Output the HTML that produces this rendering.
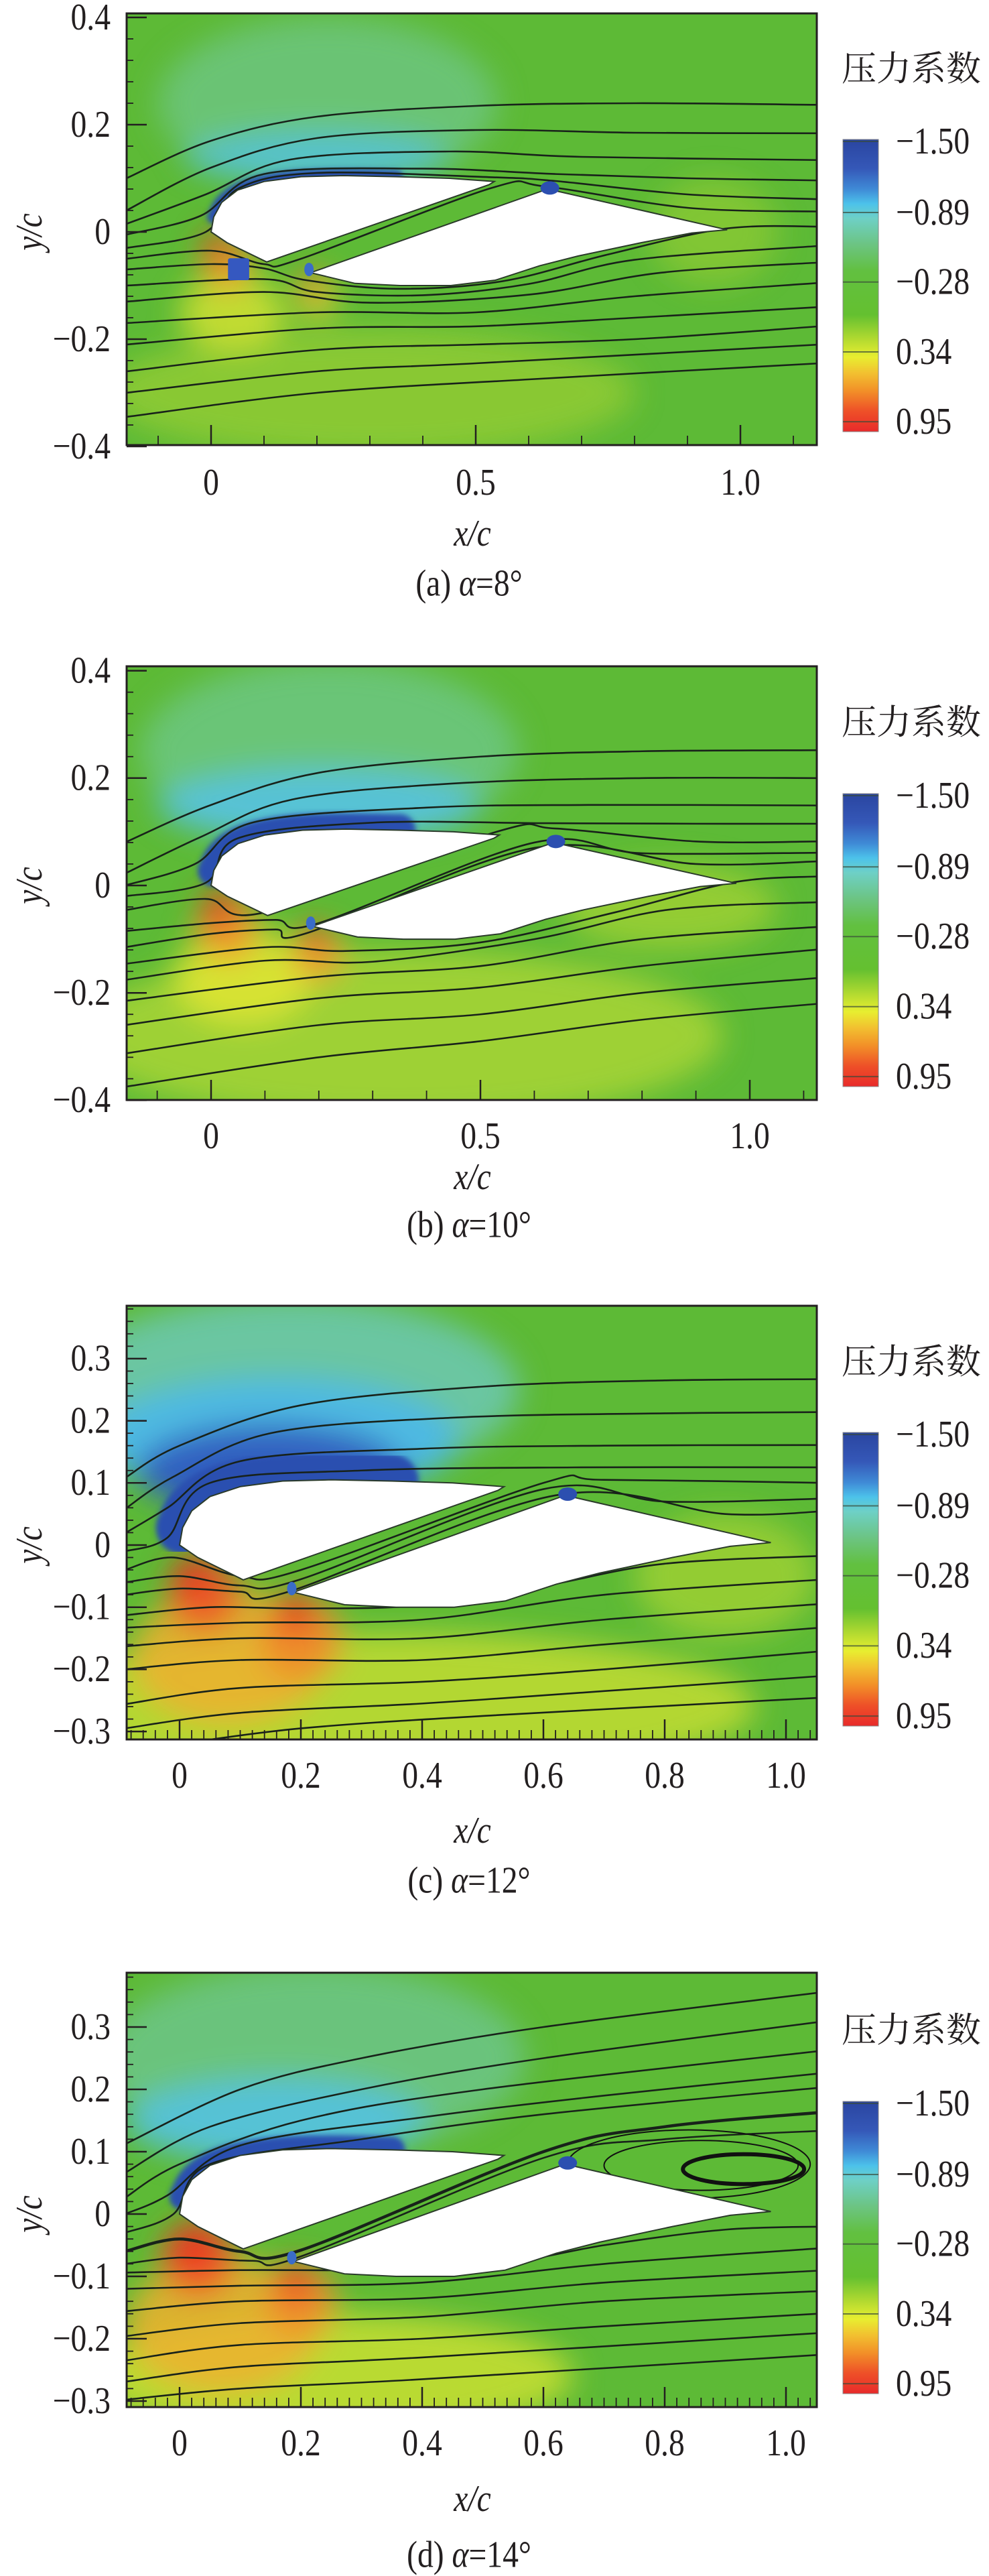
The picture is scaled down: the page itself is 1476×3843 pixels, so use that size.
<!DOCTYPE html>
<html><head><meta charset="utf-8"><title>Pressure coefficient contours</title>
<style>
html,body{margin:0;padding:0;background:#fff;}
#fig{position:absolute;left:0;top:0;width:1476px;height:3843px;}
</style></head>
<body>
<svg id="fig" xmlns="http://www.w3.org/2000/svg" width="1476" height="3843" viewBox="0 0 1476 3843">
<defs>
<filter id="blurL" x="-50%" y="-50%" width="200%" height="200%"><feGaussianBlur stdDeviation="22"/></filter>
<filter id="blurS" x="-50%" y="-50%" width="200%" height="200%"><feGaussianBlur stdDeviation="4"/></filter>
<linearGradient id="cbgrad" x1="0" y1="0" x2="0" y2="1">
<stop offset="0" stop-color="#2a45a0"/><stop offset="0.1" stop-color="#3558b8"/>
<stop offset="0.17" stop-color="#3f8ad6"/><stop offset="0.22" stop-color="#4cc2ea"/>
<stop offset="0.27" stop-color="#6ed0c6"/><stop offset="0.36" stop-color="#6cc482"/>
<stop offset="0.45" stop-color="#62c040"/><stop offset="0.6" stop-color="#64c030"/>
<stop offset="0.69" stop-color="#b8dc30"/><stop offset="0.745" stop-color="#e8ee30"/>
<stop offset="0.8" stop-color="#f2c030"/><stop offset="0.86" stop-color="#f29028"/>
<stop offset="0.93" stop-color="#ee5028"/><stop offset="1" stop-color="#e82a2a"/>
</linearGradient>
</defs>
</svg>
<script>
// ---------- data (data coordinates x/c, y/c) ----------
const cbLabels = ["\u22121.50","\u22120.89","\u22120.28","0.34","0.95"];
const cbFrac = [0.007,0.25,0.488,0.727,0.966];
const xTicksAB = [0,0.5,1.0];
const xTickLabelsAB = ["0","0.5","1.0"];
const yTicksAB = [-0.4,-0.2,0,0.2,0.4];
const yTickLabelsAB = ["\u22120.4","\u22120.2","0","0.2","0.4"];
const xTicksCD = [0,0.2,0.4,0.6,0.8,1.0];
const xTickLabelsCD = ["0","0.2","0.4","0.6","0.8","1.0"];
const yTicksCD = [-0.3,-0.2,-0.1,0,0.1,0.2,0.3];
const yTickLabelsCD = ["\u22120.3","\u22120.2","\u22120.1","0","0.1","0.2","0.3"];
const captions = ["(a) ","(b) ","(c) ","(d) "];
const alphas = ["8","10","12","14"];

// airfoil geometry
const mainX = [0,0.005,0.02,0.05,0.1,0.17,0.25,0.35,0.45,0.535,0.525,0.105,0.03,0];
const mainY = [0,0.028,0.055,0.078,0.094,0.103,0.105,0.103,0.1,0.094,0.088,-0.056,-0.02,0];
const flapX = [0.188,0.63,0.645,0.975,0.908,0.813,0.693,0.621,0.537,0.453,0.357,0.272,0.188];
const flapY = [-0.076,0.078,0.078,0.004,-0.002,-0.02,-0.045,-0.063,-0.09,-0.1,-0.1,-0.096,-0.076];

// streamlines per panel: flat [x0,y0,x1,y1,...]
const streamA = [
[-0.16,0.10,0.0,0.17,0.2,0.215,0.5,0.235,0.8,0.24,1.15,0.237],
[-0.16,0.04,0.0,0.12,0.2,0.175,0.5,0.19,0.8,0.185,1.15,0.184],
[-0.16,0.015,-0.01,0.07,0.15,0.135,0.45,0.15,0.7,0.14,1.15,0.134],
[-0.16,-0.005,-0.02,0.03,0.1,0.108,0.4,0.118,0.65,0.108,0.9,0.1,1.15,0.096],
[-0.16,-0.03,-0.01,0.0,0.05,0.08,0.2,0.11,0.53,0.102,0.65,0.095,0.9,0.07,1.15,0.061],
[-0.16,-0.05,0.0,-0.035,0.1,-0.06,0.17,-0.05,0.53,0.082,0.63,0.085,0.9,0.045,1.15,0.038],
[-0.16,-0.07,0.0,-0.06,0.1,-0.068,0.18,-0.09,0.35,-0.106,0.55,-0.092,0.75,-0.042,0.97,0.006,1.15,0.01],
[-0.16,-0.1,0.1,-0.088,0.2,-0.112,0.4,-0.118,0.6,-0.097,0.8,-0.052,1.15,-0.026],
[-0.16,-0.13,0.1,-0.112,0.3,-0.132,0.6,-0.117,0.85,-0.076,1.15,-0.057],
[-0.16,-0.17,0.2,-0.15,0.5,-0.15,0.8,-0.12,1.15,-0.095],
[-0.16,-0.21,0.2,-0.18,0.5,-0.176,0.8,-0.16,1.15,-0.14],
[-0.16,-0.26,0.2,-0.22,0.5,-0.21,0.8,-0.2,1.15,-0.176],
[-0.16,-0.3,0.2,-0.26,0.5,-0.245,1.15,-0.21],
[-0.16,-0.345,0.2,-0.3,0.6,-0.275,1.15,-0.245]];
const streamB = [
[-0.16,0.08,0.0,0.15,0.2,0.21,0.5,0.24,0.8,0.25,1.13,0.252],
[-0.16,0.022,-0.02,0.09,0.15,0.16,0.45,0.19,0.8,0.2,1.13,0.2],
[-0.16,0.0,-0.03,0.04,0.08,0.118,0.4,0.145,0.7,0.15,1.13,0.149],
[-0.16,-0.02,-0.01,0.005,0.05,0.088,0.3,0.117,0.62,0.116,0.9,0.115,1.13,0.115],
[-0.16,-0.046,-0.01,-0.025,0.1,-0.05,0.53,0.1,0.64,0.106,0.9,0.082,1.13,0.082],
[-0.16,-0.085,0.0,-0.07,0.12,-0.064,0.2,-0.07,0.6,0.08,0.8,0.06,1.13,0.061],
[-0.16,-0.115,0.0,-0.09,0.12,-0.082,0.18,-0.088,0.6,0.07,0.9,0.04,1.13,0.045],
[-0.16,-0.146,0.1,-0.115,0.25,-0.122,0.5,-0.106,0.75,-0.05,0.97,0.006,1.13,0.017],
[-0.16,-0.176,0.1,-0.14,0.3,-0.142,0.6,-0.1,0.85,-0.045,1.13,-0.031],
[-0.16,-0.215,0.2,-0.17,0.5,-0.15,0.8,-0.1,1.13,-0.077],
[-0.16,-0.26,0.2,-0.21,0.5,-0.19,0.8,-0.15,1.13,-0.119],
[-0.16,-0.313,0.2,-0.26,0.5,-0.24,0.8,-0.2,1.13,-0.172],
[-0.16,-0.375,0.2,-0.32,0.5,-0.29,0.8,-0.25,1.13,-0.22]];
const streamC = [
[-0.09,0.108,0.0,0.16,0.2,0.225,0.5,0.255,0.8,0.265,1.07,0.267],
[-0.09,0.058,-0.01,0.11,0.15,0.18,0.45,0.205,0.8,0.212,1.07,0.214],
[-0.09,0.019,-0.02,0.06,0.1,0.135,0.4,0.155,0.7,0.16,1.07,0.161],
[-0.09,-0.01,-0.02,0.012,0.05,0.1,0.3,0.12,0.65,0.125,1.07,0.125],
[-0.09,-0.04,-0.01,-0.02,0.1,-0.05,0.2,-0.04,0.6,0.1,0.7,0.105,1.07,0.1],
[-0.09,-0.06,0.0,-0.05,0.1,-0.065,0.2,-0.055,0.6,0.09,0.8,0.07,1.07,0.075],
[-0.09,-0.08,0.0,-0.07,0.1,-0.075,0.18,-0.075,0.62,0.08,0.9,0.05,1.07,0.055],
[-0.09,-0.113,0.05,-0.1,0.2,-0.102,0.4,-0.097,0.6,-0.066,0.8,-0.03,1.07,-0.017],
[-0.09,-0.133,0.1,-0.125,0.4,-0.12,0.7,-0.08,1.07,-0.055],
[-0.09,-0.163,0.1,-0.15,0.4,-0.15,0.7,-0.12,1.07,-0.094],
[-0.09,-0.2,0.1,-0.185,0.4,-0.185,0.7,-0.16,1.07,-0.132],
[-0.09,-0.256,0.1,-0.23,0.4,-0.22,0.7,-0.2,1.07,-0.17],
[-0.09,-0.295,0.1,-0.27,0.4,-0.255,0.7,-0.235,1.07,-0.21],
[0.0,-0.32,0.2,-0.295,0.5,-0.275,1.07,-0.245]];
const streamD = [
[-0.09,0.112,0.1,0.2,0.3,0.25,0.6,0.3,1.07,0.357],
[-0.09,0.066,0.05,0.14,0.3,0.2,0.6,0.25,1.07,0.31],
[-0.09,0.026,0.0,0.08,0.2,0.15,0.5,0.2,1.07,0.263],
[-0.09,0.0,-0.02,0.03,0.1,0.11,0.4,0.155,0.7,0.19,1.07,0.227],
[-0.09,-0.03,-0.01,0.0,0.05,0.08,0.3,0.12,0.6,0.16,1.07,0.204],
[-0.09,-0.06,0.0,-0.04,0.1,-0.06,0.2,-0.058,0.6,0.1,0.8,0.14,1.07,0.164],
[-0.09,-0.08,0.0,-0.07,0.12,-0.075,0.2,-0.068,0.6,0.09,0.8,0.12,1.07,0.134],
[-0.09,-0.094,0.1,-0.09,0.3,-0.09,0.5,-0.085,0.7,-0.05,0.9,-0.025,1.07,-0.02],
[-0.09,-0.12,0.1,-0.115,0.4,-0.11,0.7,-0.08,1.07,-0.054],
[-0.09,-0.156,0.1,-0.14,0.4,-0.135,0.7,-0.11,1.07,-0.09],
[-0.09,-0.196,0.1,-0.175,0.4,-0.165,0.7,-0.14,1.07,-0.123],
[-0.09,-0.235,0.1,-0.21,0.4,-0.2,0.7,-0.18,1.07,-0.159],
[-0.09,-0.269,0.1,-0.245,0.4,-0.23,1.07,-0.19],
[-0.09,-0.298,0.1,-0.28,0.4,-0.265,1.07,-0.225]];

// colour blobs: [x, y, rx, ry, colour, opacity]
const blobsA = [
[0.22,0.24,0.32,0.16,"#6fc88e",0.7],[0.2,0.14,0.25,0.05,"#55c2d8",0.85],
[0.3,-0.3,0.5,0.12,"#a6d232",0.6],[0.95,0.0,0.12,0.1,"#a6d232",0.5],
[0.04,-0.15,0.1,0.07,"#e2e632",0.75],[0.03,-0.06,0.05,0.05,"#f09a2c",0.85],
[0.01,-0.03,0.025,0.03,"#e83a22",0.95],[0.2,-0.12,0.04,0.04,"#ecd030",0.8],[0.19,-0.095,0.02,0.025,"#f0602a",0.9]];
const blobsB = [
[0.22,0.25,0.35,0.17,"#6fc88e",0.75],[0.2,0.15,0.3,0.07,"#55c2e0",0.9],
[0.35,-0.28,0.6,0.16,"#b4d834",0.75],[0.85,-0.04,0.2,0.08,"#b8d834",0.6],
[0.06,-0.17,0.13,0.09,"#e2e632",0.85],[0.03,-0.08,0.06,0.06,"#f09a2c",0.9],
[0.015,-0.045,0.03,0.04,"#e83a22",0.95],[0.2,-0.13,0.05,0.05,"#f0a030",0.85],[0.19,-0.1,0.025,0.03,"#ee5028",0.9]];
const blobsC = [
[0.18,0.25,0.38,0.15,"#6cc8b4",0.85],[0.16,0.17,0.3,0.1,"#4cb8e6",0.95],[0.15,0.12,0.22,0.075,"#3060c0",1.0],
[0.35,-0.26,0.6,0.12,"#d0e032",0.75],[0.9,-0.05,0.15,0.1,"#b8d834",0.6],
[0.08,-0.18,0.16,0.11,"#eeb030",0.85],[0.04,-0.08,0.06,0.06,"#ee5a28",0.9],
[0.02,-0.05,0.03,0.035,"#e83022",0.95],[0.2,-0.15,0.07,0.07,"#f08c2c",0.9],[0.19,-0.11,0.03,0.035,"#e83a22",0.9]];
const blobsD = [
[0.22,0.25,0.35,0.15,"#6fc89a",0.7],[0.16,0.15,0.25,0.07,"#55c2e0",0.9],
[0.25,-0.26,0.4,0.1,"#d8e432",0.75],[0.07,-0.18,0.16,0.11,"#eeb030",0.85],
[0.03,-0.07,0.06,0.06,"#ee5028",0.95],[0.02,-0.05,0.03,0.035,"#e83022",0.95],
[0.2,-0.14,0.06,0.06,"#f0902c",0.9],[0.19,-0.11,0.03,0.035,"#ee4a26",0.9]];

// ---------- panel layouts ----------
const panels = [
{x0:315,sx:790,y0:346,sy:800,l:189,t:20,r:1219,b:664,cbt:208,cbb:644,title:104,tl:720,xl:796,cap:870,xt:xTicksAB,xtl:xTickLabelsAB,yt:yTicksAB,ytl:yTickLabelsAB,xminor:0.1,yminor:0.04,stream:streamA,blobs:blobsA,blueW:10,bg:"#5dba36"},
{x0:315,sx:804,y0:1321,sy:801,l:189,t:994,r:1219,b:1641,cbt:1184,cbb:1621,title:1079,tl:1695,xl:1756,cap:1827,xt:xTicksAB,xtl:xTickLabelsAB,yt:yTicksAB,ytl:yTickLabelsAB,xminor:0.1,yminor:0.04,stream:streamB,blobs:blobsB,blueW:24,bg:"#5dba36"},
{x0:268,sx:905,y0:2305,sy:927,l:189,t:1948,r:1219,b:2595,cbt:2137,cbb:2575,title:2033,tl:2649,xl:2731,cap:2805,xt:xTicksCD,xtl:xTickLabelsCD,yt:yTicksCD,ytl:yTickLabelsCD,xminor:0.02,yminor:0.02,stream:streamC,blobs:blobsC,blueW:40,bg:"#5dba36"},
{x0:268,sx:905,y0:3303,sy:930,l:189,t:2943,r:1219,b:3591,cbt:3135,cbb:3571,title:3030,tl:3645,xl:3728,cap:3811,xt:xTicksCD,xtl:xTickLabelsCD,yt:yTicksCD,ytl:yTickLabelsCD,xminor:0.02,yminor:0.02,stream:streamD,blobs:blobsD,blueW:20,bg:"#5dba36"}];

const NS="http://www.w3.org/2000/svg";
const LATIN='"Liberation Serif", "DejaVu Serif", serif';
const CJK='"Liberation Serif", "Noto Serif CJK SC", "Noto Sans CJK SC", serif';
const fig=document.getElementById('fig');
function mk(tag,attrs,parent){const e=document.createElementNS(NS,tag);for(const k in attrs)e.setAttribute(k,attrs[k]);(parent||fig).appendChild(e);return e;}
function txt(parent,x,y,str,size,sx,anchor,name,italic,cjk){
  const g=mk('g',{transform:`translate(${x},${y}) scale(${sx},1)`},parent);
  const t=mk('text',{x:0,y:0,'font-size':size,'text-anchor':anchor,'dominant-baseline':'central',fill:'#231f20','font-family':cjk?CJK:LATIN},g);
  if(italic)t.setAttribute('font-style','italic');
  t.textContent=str;
  
  
  return t;
}
function smooth(pts){
  let d=`M${pts[0][0]},${pts[0][1]}`;
  for(let i=0;i<pts.length-1;i++){
    const p0=pts[Math.max(0,i-1)],p1=pts[i],p2=pts[i+1],p3=pts[Math.min(pts.length-1,i+2)];
    const c1x=p1[0]+(p2[0]-p0[0])/6,c1y=p1[1]+(p2[1]-p0[1])/6;
    const c2x=p2[0]-(p3[0]-p1[0])/6,c2y=p2[1]-(p3[1]-p1[1])/6;
    d+=` C${c1x},${c1y} ${c2x},${c2y} ${p2[0]},${p2[1]}`;
  }
  return d;
}

panels.forEach((P,pi)=>{
  const X=v=>P.x0+v*P.sx, Y=v=>P.y0-v*P.sy;
  const G=mk('g',{});
  
  
  const clipId='clip'+pi;
  const cp=mk('clipPath',{id:clipId},G);mk('rect',{x:P.l,y:P.t,width:P.r-P.l,height:P.b-P.t},cp);
  const plot=mk('g',{'clip-path':`url(#${clipId})`},G);
  
  
  mk('rect',{x:P.l,y:P.t,width:P.r-P.l,height:P.b-P.t,fill:P.bg},plot);
  const blobG=mk('g',{filter:'url(#blurL)'},plot);
  P.blobs.forEach(b=>{
    const e=mk('ellipse',{cx:X(b[0]),cy:Y(b[1]),rx:b[2]*P.sx,ry:b[3]*P.sy,fill:b[4],opacity:b[5]},blobG);
    
    
  });
  const upperPts=[];for(let i=1;i<8;i++)upperPts.push([X(mainX[i]),Y(mainY[i])]);
  const cres=mk('path',{d:smooth(upperPts),fill:'none',stroke:'#2c4fb0','stroke-width':P.blueW*2,'stroke-linecap':'round',filter:'url(#blurS)'},plot);
  
  
  P.stream.forEach((s,si)=>{
    const pts=[];for(let i=0;i<s.length;i+=2)pts.push([X(s[i]),Y(s[i+1])]);
    const thick=(pi===3&&si===5)?4.5:2.6;
    const sl=mk('path',{d:smooth(pts),fill:'none',stroke:'#18221a','stroke-width':thick},plot);
    
    
  });
  if(pi===3){
    [[0.93,0.072,0.1,0.024,6],[0.86,0.078,0.16,0.04,2],[0.84,0.08,0.2,0.055,2]].forEach(v=>{
      const ve=mk('ellipse',{cx:X(v[0]),cy:Y(v[1]),rx:v[2]*P.sx,ry:v[3]*P.sy,fill:'none',stroke:'#111','stroke-width':v[4]},plot);
      
      
    });
  }
  let d='';mainX.forEach((x,i)=>{d+=(i?'L':'M')+X(x)+','+Y(mainY[i]);});
  const mainEl=mk('path',{d:d+'Z',fill:'#ffffff',stroke:'#2a3a2a','stroke-width':2},plot);
  
  
  d='';flapX.forEach((x,i)=>{d+=(i?'L':'M')+X(x)+','+Y(flapY[i]);});
  const flapEl=mk('path',{d:d+'Z',fill:'#ffffff',stroke:'#2a3a2a','stroke-width':2},plot);
  
  
  const sp1=mk('ellipse',{cx:X(0.64),cy:Y(0.082),rx:14,ry:10,fill:'#2c4fb0'},plot);
  
  
  const sp2=mk('ellipse',{cx:X(0.185),cy:Y(-0.07),rx:7,ry:10,fill:'#3a6cc8'},plot);
  
  
  if(pi===0){
    const br=mk('rect',{x:X(0.032),y:Y(-0.049),width:0.04*P.sx,height:0.041*P.sy,fill:'#3558c0',rx:3},plot);
    
    
  }
  const tk=mk('g',{stroke:'#231f20','stroke-width':2.5},G);
  
  
  const xlo=(P.l-P.x0)/P.sx, xhi=(P.r-P.x0)/P.sx, ylo=(P.y0-P.b)/P.sy, yhi=(P.y0-P.t)/P.sy;
  for(let v=Math.ceil(xlo/P.xminor)*P.xminor; v<=xhi; v+=P.xminor){mk('line',{x1:X(v),x2:X(v),y1:P.b,y2:P.b-14,'stroke-width':1.8},tk);}
  for(let v=Math.ceil(ylo/P.yminor)*P.yminor; v<=yhi; v+=P.yminor){mk('line',{x1:P.l,x2:P.l+10,y1:Y(v),y2:Y(v),'stroke-width':1.8},tk);}
  P.xt.forEach((v,i)=>{
    mk('line',{x1:X(v),x2:X(v),y1:P.b,y2:P.b-30},tk);
    txt(G,X(v),P.tl,P.xtl[i],56,0.85,'middle','x-tick-label');
  });
  P.yt.forEach((v,i)=>{
    mk('line',{x1:P.l,x2:P.l+30,y1:Y(v),y2:Y(v)},tk);
    txt(G,165,Y(v),P.ytl[i],56,0.85,'end','y-tick-label');
  });
  const fr=mk('rect',{x:P.l,y:P.t,width:P.r-P.l,height:P.b-P.t,fill:'none',stroke:'#231f20','stroke-width':3},G);
  
  
  txt(G,705,P.xl,'x/c',56,0.85,'middle','x-axis-title',true);
  const yg=mk('g',{transform:`translate(44,${Y(0)}) rotate(-90)`},G);
  txt(yg,0,0,'y/c',56,0.85,'middle','y-axis-title',true);
  const cg=mk('g',{transform:`translate(700,${P.cap}) scale(0.85,1)`},G);
  const cap=mk('text',{x:0,y:0,'font-size':56,'text-anchor':'middle','dominant-baseline':'central',fill:'#231f20','font-family':LATIN},cg);
  
  
  const t1=mk('tspan',{},cap);t1.textContent=captions[pi];
  const t2=mk('tspan',{'font-style':'italic'},cap);t2.textContent='\u03b1';
  const t3=mk('tspan',{},cap);t3.textContent='='+alphas[pi]+'\u00b0';
  const cb=mk('g',{},G);
  
  
  mk('rect',{x:1258,y:P.cbt,width:53,height:P.cbb-P.cbt,fill:'url(#cbgrad)',stroke:'#888','stroke-width':1},cb);
  txt(cb,1256,P.title,'压力系数',52,1.0,'start','colorbar-title',false,true);
  cbLabels.forEach((s,i)=>{
    const yy=P.cbt+cbFrac[i]*(P.cbb-P.cbt);
    mk('line',{x1:1258,x2:1311,y1:yy,y2:yy,stroke:'#3a4a3a','stroke-width':2,opacity:0.7},cb);
    txt(cb,1337,yy,s,56,0.85,'start','colorbar-label');
  });
});
</script>
</body></html>
